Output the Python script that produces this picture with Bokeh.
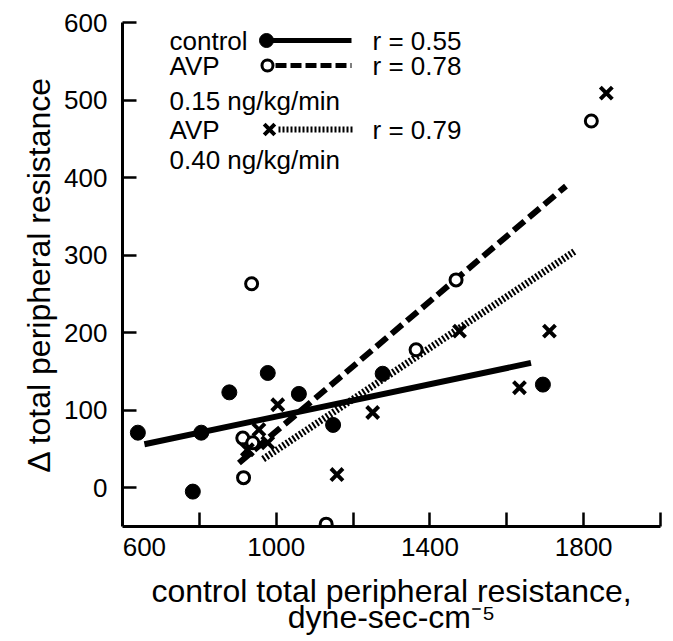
from bokeh.plotting import figure
from bokeh.models import Range1d, FixedTicker, Label, LinearAxis
from bokeh.embed import file_html
from bokeh.resources import INLINE

# ---------------- data ----------------
control_x = [640, 805, 783, 878, 978, 1059, 1148, 1277, 1694]
control_y = [71, 71, -5, 123, 148, 121, 81, 147, 133]

avp15_x = [913, 939, 915, 1130, 936, 1364, 1468, 1820]
avp15_y = [64, 58, 13, -47, 263, 178, 268, 473]

avp40_x = [1004, 955, 978, 925, 1158, 1251, 1477, 1711, 1633, 1859]
avp40_y = [107, 75, 58, 49, 17, 97, 202, 202, 129, 509]

# regression lines (end points)
fit_control_x = [657, 1663]
fit_control_y = [56, 161]
fit_avp15_x = [903, 1754]
fit_avp15_y = [32, 389]
fit_avp40_x = [966, 1780]
fit_avp40_y = [37, 306]

r_values = ["r = 0.55", "r = 0.78", "r = 0.79"]
x_tick_marks = [800, 1000, 1200, 1400, 1600, 1800, 2000]
x_tick_labels = ["600", "1000", "1400", "1800"]
y_ticks = [0, 100, 200, 300, 400, 500, 600]

# ---------------- layout ----------------
OFF = 1                      # page offset of the canvas
W, H = 666, 640
BL, BR, BT, BB = 122, 6, 22, 114
X0, X1, Y0, Y1 = 600, 2000, -50, 600
FW, FH = W - BL - BR, H - BT - BB
FONT = "Liberation Sans"


def px2x(px):  # page pixel -> data x
    return X0 + (px - OFF - BL) * (X1 - X0) / FW


def px2y(py):  # page pixel -> data y
    return Y1 - (py - OFF - BT) * (Y1 - Y0) / FH


p = figure(width=W, height=H, x_range=Range1d(X0, X1), y_range=Range1d(Y0, Y1),
           output_backend="svg", toolbar_location=None,
           min_border_left=BL, min_border_right=BR, min_border_top=BT, min_border_bottom=BB)
p.outline_line_color = None
p.xgrid.visible = False
p.ygrid.visible = False
p.background_fill_color = "white"
p.border_fill_color = "white"

for ax in (p.xaxis[0], p.yaxis[0]):
    ax.axis_line_width = 3
    ax.axis_line_color = "black"
    ax.major_tick_line_width = 2.5
    ax.major_tick_line_color = "black"
    ax.major_tick_in = 14
    ax.major_tick_out = 0
    ax.minor_tick_line_color = None
    ax.major_label_text_font = FONT
    ax.major_label_text_font_size = "26px"
    ax.major_label_text_color = "black"
    ax.axis_label_text_font = FONT
    ax.axis_label_text_font_size = "32px"
    ax.axis_label_text_font_style = "normal"
    ax.axis_label_text_color = "black"

# x axis: labels at their printed places, tick marks drawn as minor ticks
x_label_pos = [round(px2x(145)), 1000, 1400, 1800]
p.xaxis.ticker = FixedTicker(ticks=x_label_pos, minor_ticks=x_tick_marks)
p.xaxis.major_label_overrides = {pos: lab for pos, lab in zip(x_label_pos, x_tick_labels)}
p.xaxis.major_tick_line_color = None
p.xaxis.minor_tick_line_color = "black"
p.xaxis.minor_tick_line_width = 2.5
p.xaxis.minor_tick_in = 14
p.xaxis.minor_tick_out = 0
p.xaxis.major_label_standoff = 11
p.xaxis.axis_label = "control total peripheral resistance,"
p.xaxis.axis_label_standoff = 14

p.yaxis.ticker = FixedTicker(ticks=y_ticks)
p.yaxis.major_label_standoff = 15
p.yaxis.axis_label = "\u0394 total peripheral resistance"
p.yaxis.axis_label_standoff = 4

ax2 = LinearAxis(ticker=FixedTicker(ticks=[]), axis_line_color=None,
                 major_tick_line_color=None, minor_tick_line_color=None,
                 major_label_text_font_size="0px",
                 axis_label="dyne-sec-cm\u207b\u2075", axis_label_standoff=-13,
                 axis_label_text_font=FONT, axis_label_text_font_size="32px",
                 axis_label_text_font_style="normal", axis_label_text_color="black")
p.add_layout(ax2, "below")

# regression lines
p.line(fit_control_x, fit_control_y, line_width=6, line_color="black")
p.line(fit_avp15_x, fit_avp15_y, line_width=6, line_color="black", line_dash="14 6")
p.line(fit_avp40_x, fit_avp40_y, line_width=7, line_color="black", line_dash="2 2")

# points
p.scatter(control_x, control_y, marker="circle", size=15, fill_color="black", line_color="black")
p.scatter(avp15_x, avp15_y, marker="circle", size=12, fill_color="white", line_color="black", line_width=3)
p.scatter(avp40_x, avp40_y, marker="x", size=17, line_color="black", line_width=4)

# ---------------- legend ----------------
rows = [41, 66, 101, 130, 160]
texts = ["control", "AVP", "0.15 ng/kg/min", "AVP", "0.40 ng/kg/min"]
for t, ry in zip(texts, rows):
    p.add_layout(Label(x=px2x(170), y=px2y(ry), text=t, text_font=FONT, text_font_size="26px",
                       text_align="left", text_baseline="middle", text_color="black"))
for t, ry in zip(r_values, [rows[0], rows[1], rows[3]]):
    p.add_layout(Label(x=px2x(373), y=px2y(ry), text=t, text_font=FONT, text_font_size="26px",
                       text_align="left", text_baseline="middle", text_color="black"))

p.line([px2x(267), px2x(352)], [px2y(rows[0])] * 2, line_width=5, line_color="black")
p.scatter([px2x(267)], [px2y(rows[0])], marker="circle", size=14, fill_color="black", line_color="black")
p.line([px2x(276), px2x(352)], [px2y(rows[1])] * 2, line_width=5, line_color="black", line_dash="11 4")
p.scatter([px2x(268)], [px2y(rows[1])], marker="circle", size=11, fill_color="white",
          line_color="black", line_width=3)
p.line([px2x(279), px2x(355)], [px2y(rows[3])] * 2, line_width=6, line_color="black", line_dash="2 2")
p.scatter([px2x(270)], [px2y(rows[3])], marker="x", size=15, line_color="black", line_width=4)

open("out.html", "w").write(file_html(p, INLINE))
